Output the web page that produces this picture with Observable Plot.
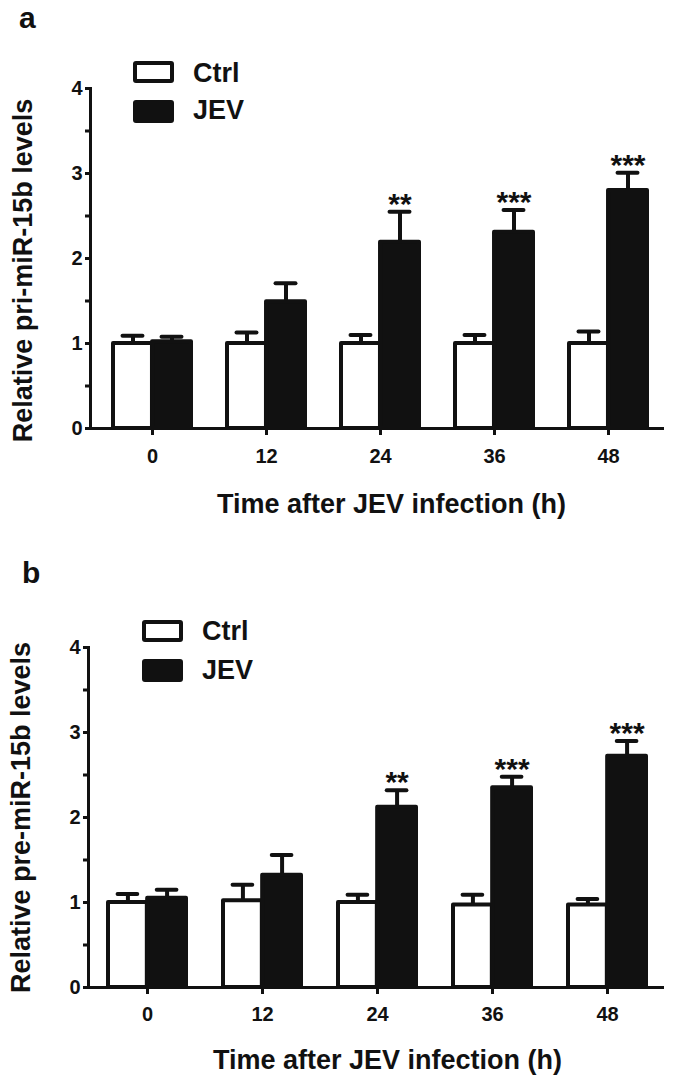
<!DOCTYPE html>
<html>
<head>
<meta charset="utf-8">
<script src="https://cdn.jsdelivr.net/npm/d3@7"></script>
<script src="https://cdn.jsdelivr.net/npm/@observablehq/plot@0.6"></script>
<style>
  html, body { margin: 0; padding: 0; background: #fff; }
  body { font-family: "Liberation Sans", Arial, sans-serif; color: #111; }
  #root { width: 675px; }
  .panel { position: relative; width: 675px; height: 539px; }
  .panel svg { position: absolute; left: 0; top: 0; }
  .txt { position: absolute; line-height: 0; font-weight: bold; white-space: nowrap; color: #111; }
  .sw { position: absolute; box-sizing: border-box; border: 4px solid #111; border-radius: 3px; }
  svg g[aria-label="x-axis label"], svg g[aria-label="y-axis label"] { font-size: 27px; }
  svg g[aria-label="x-axis tick label"], svg g[aria-label="y-axis tick label"] { font-size: 20px; }
</style>
</head>
<body>
<div id="root"></div>
<script>
// ---------- data ----------
const times = ["0", "12", "24", "36", "48"];
const seriesNames = ["Ctrl", "JEV"];

// panel a: pri-miR-15b
const priCtrl    = [1.00, 1.00, 1.00, 1.00, 1.00];
const priCtrlErr = [0.09, 0.13, 0.10, 0.10, 0.14];
const priJEV     = [1.02, 1.49, 2.19, 2.31, 2.80];
const priJEVErr  = [0.06, 0.22, 0.36, 0.26, 0.21];
const priStars   = ["", "", "**", "***", "***"];

// panel b: pre-miR-15b
const preCtrl    = [1.00, 1.02, 1.00, 0.97, 0.97];
const preCtrlErr = [0.10, 0.19, 0.09, 0.12, 0.07];
const preJEV     = [1.05, 1.32, 2.12, 2.35, 2.72];
const preJEVErr  = [0.10, 0.24, 0.20, 0.13, 0.18];
const preStars   = ["", "", "**", "***", "***"];

const yTicks = [0, 1, 2, 3, 4];
const yMinorTicks = [0.5, 1.5, 2.5, 3.5];
const xTitle = "Time after JEV infection (h)";

// ---------- drawing ----------
const INK = "#111";
function addText(parent, str, left, baseline, size) {
  const d = document.createElement("div");
  d.className = "txt";
  d.textContent = str;
  d.style.left = left + "px";
  d.style.top = (baseline - 0.3465 * size) + "px";
  d.style.fontSize = size + "px";
  parent.appendChild(d);
}
function addSwatch(parent, left, top, w, h, fill) {
  const d = document.createElement("div");
  d.className = "sw";
  Object.assign(d.style, {left: left + "px", top: top + "px", width: w + "px", height: h + "px", background: fill});
  parent.appendChild(d);
}
function nudge(svg, selector, dx, dy) {
  svg.querySelectorAll(selector).forEach(g => {
    const t = g.getAttribute("transform") || "";
    g.setAttribute("transform", `translate(${dx},${dy}) ${t}`.trim());
  });
}

function panel(cfg) {
  const W = 675, H = 539, marginRight = 675 - 664;
  const padIn = 0.32, padOut = 0.16;
  const n = times.length;
  const step = (W - cfg.marginLeft - marginRight) / (n - padIn + 2 * padOut);
  const bw = step * (1 - padIn);
  const half = bw / 2, q = bw / 4, capHalf = 10;
  const rows = times.map((t, i) => ({
    t,
    ctrl: cfg.ctrl[i], ctrlTop: cfg.ctrl[i] + cfg.ctrlErr[i],
    jev: cfg.jev[i], jevTop: cfg.jev[i] + cfg.jevErr[i],
    star: cfg.stars[i]
  }));
  const svg = Plot.plot({
    width: W, height: H,
    marginTop: cfg.marginTop, marginBottom: cfg.marginBottom,
    marginLeft: cfg.marginLeft, marginRight,
    style: {fontFamily: '"Liberation Sans", Arial, sans-serif', fontWeight: "bold", fontSize: "20px", color: INK, background: "white", overflow: "visible"},
    x: {domain: times, paddingInner: padIn, paddingOuter: padOut, align: cfg.align},
    y: {domain: [0, 4]},
    marks: [
      Plot.ruleX(rows, {x: "t", y1: "ctrl", y2: "ctrlTop", dx: -q, stroke: INK, strokeWidth: 4}),
      Plot.ruleX(rows, {x: "t", y1: "jev", y2: "jevTop", dx: q, stroke: INK, strokeWidth: 4}),
      Plot.tickY(rows, {x: "t", y: "ctrlTop", insetLeft: q - capHalf, insetRight: bw - q - capHalf, stroke: INK, strokeWidth: 4, strokeLinecap: "round"}),
      Plot.tickY(rows, {x: "t", y: "jevTop", insetLeft: 3 * q - capHalf, insetRight: q - capHalf, stroke: INK, strokeWidth: 4, strokeLinecap: "round"}),
      Plot.barY(rows, {x: "t", y: "ctrl", insetRight: half, fill: "white", stroke: INK, strokeWidth: 4, strokeLinejoin: "round"}),
      Plot.barY(rows, {x: "t", y: "jev", insetLeft: half, fill: INK, stroke: INK, strokeWidth: 4, strokeLinejoin: "round"}),
      Plot.text(rows, {x: "t", y: "jevTop", text: "star", dx: q, dy: 2, lineAnchor: "bottom", fontSize: 30, fill: INK}),
      Plot.ruleY([0], {stroke: INK, strokeWidth: 3}),
      Plot.frame({anchor: "left", stroke: INK, strokeWidth: 3}),
      Plot.axisX({tickSize: 7, tickPadding: cfg.xTickPad, stroke: INK, strokeWidth: 3, fill: INK, fontSize: 20,
        label: xTitle, labelAnchor: "center", labelArrow: "none", labelOffset: cfg.xLabelOffset}),
      Plot.axisY(yTicks, {tickSize: 5, tickPadding: 3, stroke: INK, strokeWidth: 3, fill: INK, fontSize: 20,
        tickFormat: d => String(d),
        label: cfg.ylabel, labelAnchor: "center", labelArrow: "none", labelOffset: 78}),
      Plot.axisY(yMinorTicks, {tickSize: 5, tickFormat: () => "", stroke: INK, strokeWidth: 3, label: null})
    ]
  });
  const div = document.createElement("div");
  div.className = "panel";
  div.appendChild(svg);
  // shift axis titles to match the original placement
  nudge(svg, 'g[aria-label="x-axis label"]', cfg.xLabelShift, 0);
  nudge(svg, 'g[aria-label="y-axis label"]', 0, cfg.yLabelShift);
  // panel letter
  addText(div, cfg.letter, cfg.letterX, cfg.letterBase, 30);
  // legend
  const L = cfg.legend;
  addSwatch(div, L.x, L.y1, 41, 22, "white");
  addSwatch(div, L.x, L.y2, 41, 23, INK);
  addText(div, seriesNames[0], L.tx, L.b1, 27);
  addText(div, seriesNames[1], L.tx, L.b2, 27);
  document.getElementById("root").appendChild(div);
}

panel({
  letter: "a", letterX: 19, letterBase: 28,
  ctrl: priCtrl, ctrlErr: priCtrlErr, jev: priJEV, jevErr: priJEVErr, stars: priStars,
  ylabel: "Relative pri-miR-15b levels",
  marginTop: 88, marginBottom: 539 - 428, marginLeft: 90, align: 0.57,
  xTickPad: 13, xLabelOffset: 84, xLabelShift: 14, yLabelShift: 12,
  legend: {x: 133, y1: 61, y2: 100, tx: 193, b1: 82, b2: 119}
});
panel({
  letter: "b", letterX: 22, letterBase: 44,
  ctrl: preCtrl, ctrlErr: preCtrlErr, jev: preJEV, jevErr: preJEVErr, stars: preStars,
  ylabel: "Relative pre-miR-15b levels",
  marginTop: 108, marginBottom: 539 - 448, marginLeft: 88, align: 0.54,
  xTickPad: 12, xLabelOffset: 81, xLabelShift: 11, yLabelShift: 0,
  legend: {x: 142, y1: 81, y2: 120, tx: 202, b1: 101, b2: 140}
});
</script>
</body>
</html>
